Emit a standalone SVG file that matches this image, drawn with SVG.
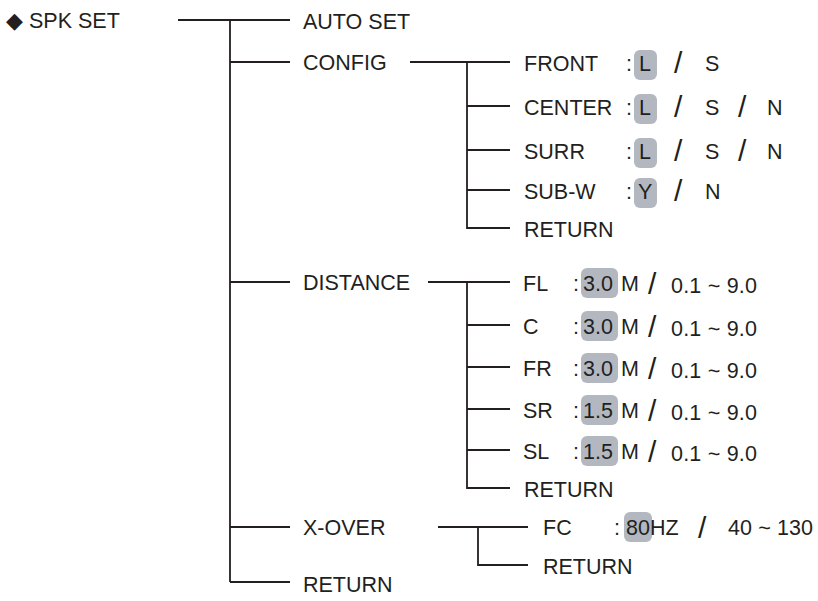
<svg xmlns="http://www.w3.org/2000/svg" width="818" height="601" viewBox="0 0 818 601">
<style>
text{font-family:"Liberation Sans",Arial,sans-serif;font-size:21.5px;fill:#231f20}
.c line{stroke:#231f20;stroke-width:1.8;fill:none}
.h{fill:#b3b8c0}
.sl{font-size:30px}
</style>
<rect width="818" height="601" fill="#fff"/>
<g class="c" id="connectors">
<line x1="178" y1="20" x2="290" y2="20"/>
<line x1="230" y1="20" x2="230" y2="582"/>
<line x1="230" y1="62" x2="290" y2="62"/>
<line x1="230" y1="282" x2="290" y2="282"/>
<line x1="230" y1="527" x2="290" y2="527"/>
<line x1="230" y1="582" x2="290" y2="582"/>
<line x1="410" y1="62" x2="510" y2="62"/>
<line x1="467" y1="62" x2="467" y2="229"/>
<line x1="467" y1="106" x2="510" y2="106"/>
<line x1="467" y1="150" x2="510" y2="150"/>
<line x1="467" y1="190" x2="510" y2="190"/>
<line x1="467" y1="228" x2="510" y2="228"/>
<line x1="428" y1="282" x2="510" y2="282"/>
<line x1="467" y1="282" x2="467" y2="489"/>
<line x1="467" y1="325" x2="510" y2="325"/>
<line x1="467" y1="367" x2="510" y2="367"/>
<line x1="467" y1="409" x2="510" y2="409"/>
<line x1="467" y1="450" x2="510" y2="450"/>
<line x1="467" y1="488" x2="510" y2="488"/>
<line x1="438" y1="527" x2="528" y2="527"/>
<line x1="478" y1="527" x2="478" y2="566"/>
<line x1="478" y1="565" x2="528" y2="565"/>
</g>
<g id="root"><text x="6" y="28">◆ SPK SET</text></g>
<g id="autoset"><text x="303" y="29">AUTO SET</text></g>
<g id="config"><text x="303" y="70">CONFIG</text></g>
<g id="distance"><text x="303" y="290">DISTANCE</text></g>
<g id="xover"><text x="303" y="535">X-OVER</text></g>
<g id="return-main"><text x="303" y="592">RETURN</text></g>
<g id="front"><text x="524" y="71">FRONT</text><text x="626" y="71">:</text><rect class="h" x="634" y="50" width="23" height="30" rx="6"/><text x="639" y="71">L</text><text x="674" y="73" class="sl">/</text><text x="705" y="71">S</text></g>
<g id="center"><text x="524" y="115">CENTER</text><text x="626" y="115">:</text><rect class="h" x="634" y="94" width="23" height="30" rx="6"/><text x="639" y="115">L</text><text x="674" y="117" class="sl">/</text><text x="705" y="115">S</text><text x="738" y="117" class="sl">/</text><text x="767" y="115">N</text></g>
<g id="surr"><text x="524" y="159">SURR</text><text x="626" y="159">:</text><rect class="h" x="634" y="138" width="23" height="30" rx="6"/><text x="639" y="159">L</text><text x="674" y="161" class="sl">/</text><text x="705" y="159">S</text><text x="738" y="161" class="sl">/</text><text x="767" y="159">N</text></g>
<g id="subw"><text x="524" y="199">SUB-W</text><text x="626" y="199">:</text><rect class="h" x="634" y="178" width="23" height="30" rx="6"/><text x="638" y="199">Y</text><text x="674" y="201" class="sl">/</text><text x="705" y="199">N</text></g>
<g id="return-config"><text x="524" y="237">RETURN</text></g>
<g id="fl"><text x="523" y="291">FL</text><text x="573" y="291">:</text><rect class="h" x="581" y="268" width="37" height="30" rx="6"/><text x="583" y="291">3.0</text><text x="621" y="291">M</text><text x="648" y="294" class="sl">/</text><text x="671" y="293" textLength="86">0.1 ~ 9.0</text></g>
<g id="c"><text x="523" y="334">C</text><text x="573" y="334">:</text><rect class="h" x="581" y="311" width="37" height="30" rx="6"/><text x="583" y="334">3.0</text><text x="621" y="334">M</text><text x="648" y="337" class="sl">/</text><text x="671" y="336" textLength="86">0.1 ~ 9.0</text></g>
<g id="fr"><text x="523" y="376">FR</text><text x="573" y="376">:</text><rect class="h" x="581" y="353" width="37" height="30" rx="6"/><text x="583" y="376">3.0</text><text x="621" y="376">M</text><text x="648" y="379" class="sl">/</text><text x="671" y="378" textLength="86">0.1 ~ 9.0</text></g>
<g id="sr"><text x="523" y="418">SR</text><text x="573" y="418">:</text><rect class="h" x="581" y="395" width="37" height="30" rx="6"/><text x="583" y="418">1.5</text><text x="621" y="418">M</text><text x="648" y="421" class="sl">/</text><text x="671" y="420" textLength="86">0.1 ~ 9.0</text></g>
<g id="sl"><text x="523" y="459">SL</text><text x="573" y="459">:</text><rect class="h" x="581" y="436" width="37" height="30" rx="6"/><text x="583" y="459">1.5</text><text x="621" y="459">M</text><text x="648" y="462" class="sl">/</text><text x="671" y="461" textLength="86">0.1 ~ 9.0</text></g>
<g id="return-distance"><text x="524" y="497">RETURN</text></g>
<g id="fc"><text x="543" y="535">FC</text><text x="614" y="535">:</text><rect class="h" x="624" y="512" width="28" height="30" rx="6"/><text x="626" y="535">80</text><text x="650" y="535">HZ</text><text x="698" y="538" class="sl">/</text><text x="728" y="535" textLength="85">40 ~ 130</text></g>
<g id="return-xover"><text x="543" y="574">RETURN</text></g>
</svg>
